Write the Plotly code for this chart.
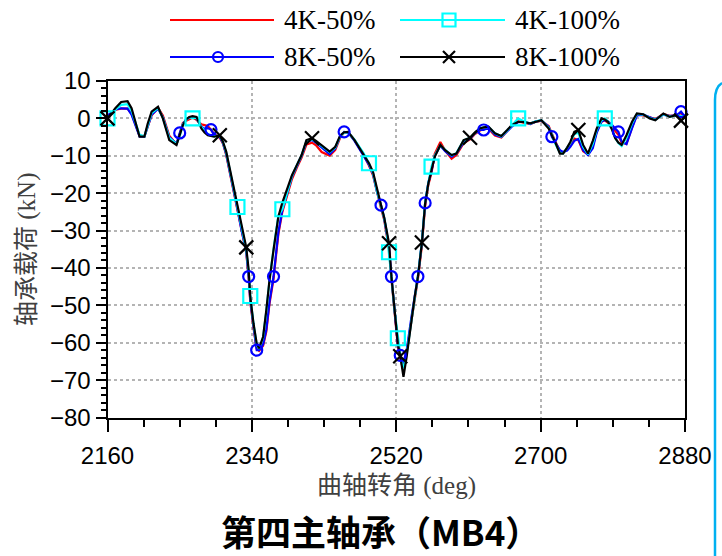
import numpy as np
import plotly.graph_objects as go

# Crank angle grid (deg) shared by all four load cases
crank_angle = [
    2160, 2165, 2170, 2177, 2185, 2190, 2195, 2200, 2206, 2210,
    2215, 2223, 2229, 2237, 2246, 2250, 2254, 2258, 2262, 2266,
    2271, 2277, 2281, 2285, 2289, 2293, 2300, 2304, 2308, 2314,
    2318, 2322, 2327, 2333, 2336, 2338, 2342, 2346, 2349, 2354,
    2358, 2362, 2367, 2373, 2378, 2385, 2390, 2396, 2402, 2408,
    2415, 2420, 2427, 2437, 2444, 2450, 2455, 2460, 2468, 2479,
    2486, 2491, 2496, 2501, 2505, 2508, 2511, 2514, 2518, 2522,
    2525, 2527, 2529, 2533, 2539, 2543, 2547, 2552, 2556, 2560,
    2564, 2568, 2575, 2581, 2589, 2595, 2604, 2612, 2618, 2624,
    2629, 2635, 2643, 2651, 2658, 2664, 2672, 2680, 2687, 2694,
    2701, 2710, 2714, 2718, 2724, 2728, 2733, 2737, 2742, 2747,
    2753, 2759, 2765, 2770, 2776, 2780, 2784, 2789, 2793, 2797,
    2801, 2807, 2814, 2820, 2828, 2836, 2843, 2853, 2861, 2870,
    2875, 2880,
]

# Main bearing MB4 load (kN)
load_4k_50 = [
    0.6, 1.4, 2.3, 2.6, 2.6, 1.2, -1.8, -4.6, -4.8, -2.2,
    0.8, 2.8, 0.8, -4.6, -7.0, -4.2, -1.2, -0.6, -0.2, 0.2,
    -0.4, -1.6, -1.8, -2.0, -3.0, -4.2, -5.2, -6.8, -9.8, -16.0,
    -20.0, -24.5, -30.2, -36.0, -42.6, -49.0, -56.0, -61.6, -62.2, -60.8,
    -57.0, -49.5, -43.0, -31.0, -25.0, -19.8, -16.2, -13.2, -10.5, -7.0,
    -6.5, -7.2, -9.0, -10.0, -8.4, -5.2, -3.8, -3.6, -5.8, -9.6,
    -12.6, -15.2, -20.0, -24.0, -27.2, -31.0, -35.0, -43.0, -52.5, -61.0,
    -64.0, -65.8, -66.0, -62.5, -54.0, -48.0, -43.0, -34.0, -23.5, -17.8,
    -14.5, -9.5, -6.3, -8.6, -10.8, -9.8, -6.6, -5.6, -4.2, -3.3,
    -2.8, -2.8, -4.6, -5.1, -3.4, -2.0, -0.8, -1.2, -1.5, -0.9,
    -0.7, -2.0, -3.8, -6.0, -8.8, -9.2, -8.2, -7.0, -5.4, -5.8,
    -8.8, -9.6, -7.4, -3.5, -0.9, -0.5, -1.2, -2.0, -3.4, -4.4,
    -6.6, -6.8, -2.4, 1.0, 0.8, 0.3, -0.2, 1.2, 0.7, 0.8,
    1.4, 0.4,
]

load_4k_100 = [
    0.0, 1.2, 2.4, 3.6, 3.8, 2.0, -1.2, -4.4, -4.8, -1.8,
    1.4, 2.8, 0.2, -5.2, -6.9, -4.8, -1.6, -0.4, 0.3, 0.0,
    0.2, -2.3, -3.3, -4.2, -4.6, -4.8, -4.6, -6.4, -9.2, -15.6,
    -19.5, -23.7, -29.4, -35.2, -41.2, -47.5, -55.0, -60.5, -61.6, -58.6,
    -51.6, -43.3, -35.0, -26.0, -24.3, -19.2, -15.4, -12.6, -9.9, -6.0,
    -5.6, -6.2, -7.4, -9.0, -7.8, -4.8, -3.8, -3.7, -5.7, -9.2,
    -12.0, -14.6, -19.5, -23.4, -26.7, -30.2, -35.8, -42.6, -51.6, -58.8,
    -63.0, -65.6, -66.8, -63.0, -53.8, -47.6, -42.2, -33.0, -22.5, -17.3,
    -12.9, -10.0, -7.2, -8.4, -9.9, -9.3, -5.9, -5.2, -3.9, -2.7,
    -2.4, -2.3, -4.0, -4.8, -3.3, -1.9, 0.0, -0.9, -1.4, -0.8,
    -0.5, -2.5, -4.2, -6.6, -9.2, -9.4, -8.0, -6.6, -4.2, -3.8,
    -7.6, -9.6, -6.8, -3.0, -0.5, 0.0, -0.8, -2.8, -5.2, -6.6,
    -7.4, -5.2, -1.3, 1.2, 1.0, 0.1, -0.4, 1.1, 0.5, 0.8,
    0.6, 0.4,
]

load_8k_50 = [
    0.8, 1.6, 2.4, 2.7, 2.6, 1.0, -2.0, -4.8, -4.9, -2.0,
    1.0, 2.6, 0.3, -5.0, -6.8, -3.9, -1.5, -0.3, 0.2, 0.3,
    0.0, -2.2, -2.8, -2.6, -3.0, -4.4, -5.0, -6.6, -9.5, -15.8,
    -19.8, -24.2, -29.8, -35.5, -42.3, -48.6, -55.5, -62.0, -62.0, -60.5,
    -56.5, -49.0, -42.3, -30.5, -24.5, -19.2, -15.6, -12.8, -10.0, -6.3,
    -5.8, -6.5, -7.8, -9.6, -8.0, -4.8, -3.6, -3.8, -6.0, -9.8,
    -12.4, -14.8, -19.6, -23.2, -26.8, -30.6, -34.5, -42.3, -52.0, -60.5,
    -63.4, -65.0, -65.2, -62.0, -53.0, -47.2, -42.3, -33.0, -22.6, -17.2,
    -14.0, -10.0, -7.3, -8.8, -10.2, -9.4, -6.4, -5.4, -4.0, -3.1,
    -3.1, -2.5, -4.3, -5.0, -3.6, -2.2, -1.0, -0.9, -1.5, -0.8,
    -0.6, -2.2, -4.9, -6.2, -8.5, -9.0, -8.6, -7.6, -6.0, -5.5,
    -8.5, -9.8, -8.0, -3.8, -0.8, -0.4, -0.8, -1.8, -2.8, -3.6,
    -6.2, -6.9, -2.6, 0.8, 1.0, 0.2, -0.3, 1.0, 0.6, 0.9,
    1.8, 0.4,
]

load_8k_100 = [
    0.0, 1.5, 2.8, 4.4, 4.6, 2.7, -1.5, -4.9, -4.9, -1.5,
    1.8, 3.1, 0.0, -5.8, -7.1, -4.5, -1.8, -0.3, 0.4, 0.6,
    0.4, -2.7, -3.8, -4.5, -4.8, -4.9, -4.5, -6.3, -8.9, -15.2,
    -19.0, -23.5, -29.0, -34.5, -40.6, -47.7, -54.8, -60.2, -61.5, -58.4,
    -51.3, -43.2, -35.2, -26.3, -22.5, -18.5, -15.2, -12.5, -9.8, -5.8,
    -5.3, -6.0, -7.1, -8.9, -7.6, -4.6, -3.7, -3.6, -5.8, -9.4,
    -12.0, -14.3, -19.2, -23.2, -26.5, -29.9, -33.4, -42.4, -51.3, -60.2,
    -63.6, -66.4, -69.1, -63.7, -53.9, -47.7, -42.4, -33.2, -22.7, -17.4,
    -13.8, -10.3, -7.1, -8.5, -9.8, -9.4, -5.8, -5.2, -3.8, -2.7,
    -2.4, -2.2, -4.0, -4.7, -3.2, -1.8, -0.9, -1.0, -1.3, -0.9,
    -0.5, -2.7, -4.3, -6.3, -9.4, -9.4, -7.8, -6.3, -3.6, -3.1,
    -7.1, -9.4, -6.0, -2.7, 0.0, -0.3, -0.9, -3.0, -5.3, -6.5,
    -7.1, -4.5, -0.9, 1.3, 1.1, 0.0, -0.5, 1.3, 0.4, 0.9,
    -0.6, 0.3,
]

# Crank angles where each curve carries a symbol
marks_4k_100 = [2160, 2266, 2322, 2338, 2378, 2486, 2511, 2522, 2564, 2672, 2780]
marks_8k_50 = [2250, 2289, 2336, 2346, 2367, 2455, 2501, 2514, 2525, 2547, 2556,
               2629, 2714, 2797, 2875]
marks_8k_100 = [2160, 2300, 2333, 2415, 2511, 2525, 2552, 2612, 2747, 2875]

x_ticks = [2160, 2340, 2520, 2700, 2880]

W, H = 722, 556
x_arr = np.array(crank_angle, dtype=float)

series = [
    dict(name="4K-50%", y=load_4k_50, color="#ff0000", marks=None, symbol=None, size=0),
    dict(name="8K-50%", y=load_8k_50, color="#0000ff", marks=marks_8k_50,
         symbol="circle-open", size=11),
    dict(name="4K-100%", y=load_4k_100, color="#00ffff", marks=marks_4k_100,
         symbol="square-open", size=14),
    dict(name="8K-100%", y=load_8k_100, color="#000000", marks=marks_8k_100,
         symbol="x-thin-open", size=14),
]

fig = go.Figure()
for s in series:
    fig.add_trace(go.Scatter(
        x=crank_angle, y=s["y"], mode="lines", name=s["name"],
        line=dict(color=s["color"], width=2.2), showlegend=False,
    ))
for s in series:
    if s["marks"] is None:
        continue
    idx = [int(np.argmin(np.abs(x_arr - a))) for a in s["marks"]]
    fig.add_trace(go.Scatter(
        x=[crank_angle[i] for i in idx], y=[s["y"][i] for i in idx],
        mode="markers", showlegend=False, cliponaxis=False,
        marker=dict(symbol=s["symbol"], size=s["size"], color=s["color"],
                    line=dict(color=s["color"], width=2.2)),
    ))

# Legend keys drawn on a small overlay axis in the header band (pixel units)
legend_rows = [
    [("4K-50%", "#ff0000", None, 0), ("4K-100%", "#00ffff", "square-open", 13)],
    [("8K-50%", "#0000ff", "circle-open", 10), ("8K-100%", "#000000", "x-thin-open", 12)],
]
row_y = [20, 57]
col_x = [(170, 274, 221), (400, 505, 449)]
for r, row in enumerate(legend_rows):
    for c, (label, color, sym, size) in enumerate(row):
        x0, x1, xm = col_x[c]
        if r == 1 and c == 0:
            xm = 218
        fig.add_trace(go.Scatter(
            x=[x0, x1], y=[row_y[r], row_y[r]], mode="lines", xaxis="x2", yaxis="y2",
            line=dict(color=color, width=2.2), showlegend=False, hoverinfo="skip",
        ))
        if sym:
            fig.add_trace(go.Scatter(
                x=[xm], y=[row_y[r]], mode="markers", xaxis="x2", yaxis="y2",
                marker=dict(symbol=sym, size=size, color=color,
                            line=dict(color=color, width=2.2)),
                showlegend=False, hoverinfo="skip", cliponaxis=False,
            ))
        fig.add_annotation(
            x=x1 + 8, y=row_y[r], xref="x2", yref="y2", text=label, showarrow=False,
            xanchor="left", yanchor="middle",
            font=dict(family="Liberation Serif", size=27, color="#000000"),
        )

x_dom = [107.5 / W, 685 / W]
y_dom = [1 - 417.5 / H, 1 - 81 / H]

axis_font = dict(family="Liberation Sans, Arial", size=24, color="#000000")
fig.update_layout(
    width=W, height=H,
    margin=dict(l=0, r=0, t=0, b=0, autoexpand=False),
    paper_bgcolor="white", plot_bgcolor="white",
    showlegend=False,
    xaxis=dict(
        domain=x_dom, range=[2160, 2880], tickvals=x_ticks, automargin=False,
        ticks="outside", ticklen=12, tickwidth=2, tickcolor="black",
        ticklabelstandoff=4,
        showline=True, linecolor="black", linewidth=2, mirror=True,
        showgrid=True, gridcolor="#b4b4b4", griddash="dot", gridwidth=2,
        zeroline=False, tickfont=axis_font,
        minor=dict(dtick=45, ticks="outside", ticklen=7, tickwidth=2,
                   tickcolor="black", showgrid=False),
    ),
    yaxis=dict(
        domain=y_dom, range=[-80, 10], dtick=10, automargin=False,
        ticks="outside", ticklen=10, tickwidth=2, tickcolor="black",
        showline=True, linecolor="black", linewidth=2, mirror=True,
        showgrid=True, gridcolor="#b4b4b4", griddash="dot", gridwidth=2,
        zeroline=False, tickfont=axis_font,
        minor=dict(dtick=2, ticks="outside", ticklen=5, tickwidth=2,
                   tickcolor="black", showgrid=False),
    ),
    xaxis2=dict(domain=[0, 1], range=[0, W], anchor="y2", visible=False,
                fixedrange=True, automargin=False),
    yaxis2=dict(domain=[1 - 78 / H, 1], range=[78, 0], anchor="x2", visible=False,
                fixedrange=True, automargin=False),
)

title_font = dict(family="Liberation Serif, Noto Sans CJK SC", size=25, color="#404040")
fig.add_annotation(
    x=(x_dom[0] + x_dom[1]) / 2, y=1 - 486 / H, xref="paper", yref="paper",
    text="曲轴转角 (deg)", showarrow=False, xanchor="center", yanchor="middle",
    font=title_font,
)
fig.add_annotation(
    x=27 / W, y=1 - 250 / H, xref="paper", yref="paper",
    text="轴承载荷 (kN)", showarrow=False, textangle=-90,
    xanchor="center", yanchor="middle", font=title_font,
)
fig.add_annotation(
    x=381 / W, y=1 - 530 / H, xref="paper", yref="paper",
    text="<b>第四主轴承（MB4）</b>", showarrow=False, xanchor="center", yanchor="middle",
    font=dict(family="Noto Sans CJK SC", size=35, color="#000000"),
)

# Rounded blue frame edge on the right
fig.add_shape(
    type="path", xref="paper", yref="paper",
    path=f"M {715 / W},0 L {715 / W},{1 - 100 / H} Q {715 / W},{1 - 87 / H} {722 / W},{1 - 83 / H}",
    line=dict(color="#00b0f0", width=2.5),
)

fig.write_html("out.html")
